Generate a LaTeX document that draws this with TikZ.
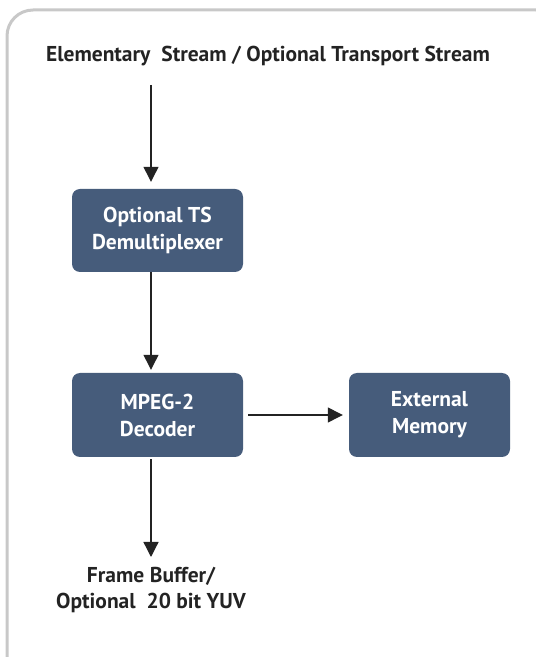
\documentclass[tikz,border=0pt]{standalone}
\usepackage{fontspec}
\setmainfont{PT Sans}
\usepackage{xcolor}
\usetikzlibrary{arrows.meta}
\definecolor{boxblue}{RGB}{70,92,123}
\definecolor{framegray}{RGB}{200,200,200}
\definecolor{inkgray}{RGB}{35,35,35}
\begin{document}
\begin{tikzpicture}[x=1pt,y=1pt,
	block/.style={rectangle,rounded corners=8pt,fill=boxblue,text=white,
		font=\fontsize{21.5}{27}\selectfont\bfseries,align=center,inner sep=0pt},
	label/.style={text=inkgray,font=\fontsize{21.5}{26}\selectfont\bfseries,align=center,inner sep=0pt},
	flow/.style={draw=inkgray,line width=1.3pt,-{Triangle[length=15pt,width=15pt]}}]
			\useasboundingbox (0,0) rectangle (536,657);
			% Khung ngoài
			\begin{scope}
			\clip (0,0) rectangle (536,657);
			\draw [framegray,line width=3pt,rounded corners=26pt] (7,647) rectangle (562,-30);
			\end{scope}
			% Các khối
			\node [label] (title) at (268,601) {Elementary\ \ Stream / Optional Transport Stream};
			\node [block,minimum width=171pt,minimum height=83pt] (demux) at (157.5,426.5) {Optional TS\\Demultiplexer};
			\node [block,minimum width=171pt,minimum height=84pt] (decoder) at (157.5,242) {MPEG-2\\Decoder};
			\node [block,minimum width=161pt,minimum height=84pt] (memory) at (429.5,242) {External\\Memory};
			\node [label] (out) at (151,67) {Frame Buffer/\\Optional\ \ 20 bit YUV};
			\coordinate (in) at (151,572);
			% Vẽ mũi tên
			\draw [flow,shorten >=7pt] (in) -- (demux.north -| in);
			\draw [flow,shorten >=3pt] (demux.south -| in) -- (decoder.north -| in);
			\draw [flow,shorten <=5pt,shorten >=6pt] (decoder.east) -- (memory.west);
			\draw [flow,shorten <=2pt,shorten >=10pt] (decoder.south -| in) -- (out.north -| in);
		\end{tikzpicture}
\end{document}
